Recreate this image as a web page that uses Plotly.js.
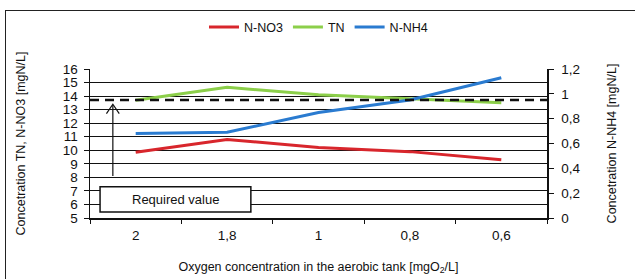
<!DOCTYPE html>
<html>
<head>
<meta charset="utf-8">
<script src="https://cdn.plot.ly/plotly-3.0.1.min.js"></script>
<style>
html,body{margin:0;padding:0;background:#fff;}
#frame{position:absolute;left:5px;top:10px;width:640px;height:280px;border-left:1.5px solid #222;border-top:1.5px solid #222;pointer-events:none;z-index:5;}
#chart{width:635px;height:279px;}
</style>
</head>
<body>
<div id="frame"></div>
<div id="chart"></div>
<script>
const categories = ['2', '1,8', '1', '0,8', '0,6'];
const no3 = [9.85, 10.8, 10.2, 9.9, 9.3];
const tn = [13.7, 14.65, 14.1, 13.8, 13.5];
const nh4 = [0.68, 0.69, 0.85, 0.95, 1.13];
const requiredLevel = 13.72;

const lineW = 3;
const traces = [
  {x: categories, y: no3, name: 'N-NO3', type: 'scatter', mode: 'lines', line: {color: '#d8262c', width: lineW}},
  {x: categories, y: tn, name: 'TN', type: 'scatter', mode: 'lines', line: {color: '#8ccf4a', width: lineW}},
  {x: categories, y: nh4, name: 'N-NH4', type: 'scatter', mode: 'lines', yaxis: 'y2', line: {color: '#2a7bd0', width: lineW}}
];

const font = {family: 'Liberation Sans, Arial, sans-serif', color: '#111'};
const layout = {
  width: 635, height: 279,
  margin: {l: 90, r: 88, t: 47, b: 61},
  paper_bgcolor: '#fff', plot_bgcolor: '#fff',
  separators: ',.',
  font: Object.assign({size: 13}, font),
  showlegend: true,
  legend: {orientation: 'h', x: 0.5, xanchor: 'center', y: 1.28, yanchor: 'middle', font: Object.assign({size: 12.5}, font), itemwidth: 30, tracegroupgap: 0},
  xaxis: {
    type: 'category', range: [-0.5, 4.5], tickson: 'boundaries', ticks: 'outside', ticklen: 4, tickcolor: '#111',
    showline: true, linecolor: '#111', linewidth: 1.5, showgrid: false, zeroline: false,
    tickfont: Object.assign({size: 13.5}, font), ticklabelstandoff: 4,
    title: {text: 'Oxygen concentration in the aerobic tank [mgO<sub>2</sub>/L]', font: Object.assign({size: 12.5}, font), standoff: 20}
  },
  yaxis: {
    range: [5, 16], dtick: 1, ticks: 'outside', ticklen: 5, tickcolor: '#111',
    showline: true, linecolor: '#111', linewidth: 1.5, showgrid: true, gridcolor: '#111', gridwidth: 1, zeroline: false,
    tickfont: Object.assign({size: 13.5}, font), ticklabelstandoff: 3,
    title: {text: 'Concetration TN, N-NO3 [mgN/L]', font: Object.assign({size: 12.5}, font), standoff: 34}
  },
  yaxis2: {
    overlaying: 'y', side: 'right', range: [0, 1.2], dtick: 0.2, tickformat: '.1~f', ticks: 'outside', ticklen: 5, tickcolor: '#111',
    showline: true, linecolor: '#111', linewidth: 1.5, showgrid: false, zeroline: false,
    tickfont: Object.assign({size: 13.5}, font), ticklabelstandoff: 5,
    title: {text: 'Concetration N-NH4 [mgN/L]', font: Object.assign({size: 12.5}, font), standoff: 28}
  },
  shapes: [
    {type: 'line', xref: 'x domain', yref: 'y', x0: 0, x1: 1, y0: requiredLevel, y1: requiredLevel, line: {color: '#111', width: 2.5, dash: '9px,6px'}},
    {type: 'line', xref: 'x', yref: 'y', x0: -0.25, x1: -0.25, y0: 8.1, y1: 13.35, line: {color: '#111', width: 1.2}},
    {type: 'path', xref: 'x', yref: 'y', path: 'M -0.32 12.7 L -0.25 13.4 L -0.18 12.7', line: {color: '#111', width: 1.2}},
    {type: 'rect', xref: 'x', yref: 'y', x0: -0.39, x1: 1.26, y0: 5.45, y1: 7.3, fillcolor: '#fff', line: {color: '#111', width: 1.5}, layer: 'above'}
  ],
  annotations: [
    {xref: 'x', yref: 'y', x: 0.435, y: 6.38, text: 'Required value', showarrow: false, font: Object.assign({size: 13}, font)}
  ]
};

Plotly.newPlot('chart', traces, layout, {displayModeBar: false, staticPlot: true});
</script>
</body>
</html>
